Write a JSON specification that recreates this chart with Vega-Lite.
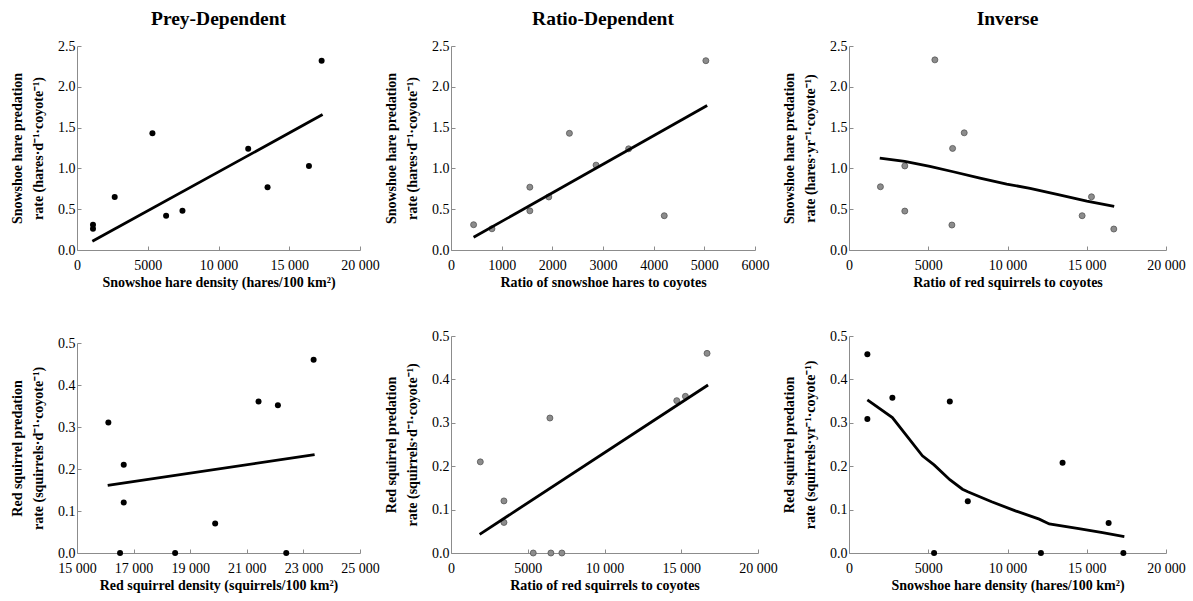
{
  "$schema": "https://vega.github.io/schema/vega-lite/v6.json",
  "padding": {"left": 10, "top": 8, "right": 0, "bottom": 5},
  "background": "white",
  "config": {
    "font": "Liberation Serif",
    "view": {"stroke": null},
    "axis": {
      "grid": false,
      "domainColor": "#8c8c8c",
      "domainWidth": 1,
      "tickColor": "#8c8c8c",
      "tickSize": -4,
      "labelFont": "Liberation Serif",
      "labelFontSize": 14,
      "labelColor": "black",
      "labelOverlap": false,
      "labelFlush": false,
      "titleFont": "Liberation Serif",
      "titleFontSize": 14,
      "titleFontWeight": "bold",
      "titleColor": "black",
      "titleLineHeight": 21
    },
    "axisX": {"labelPadding": 12.5, "titlePadding": 2.5},
    "axisY": {"labelPadding": 6, "titlePadding": 12},
    "title": {"font": "Liberation Serif", "fontSize": 19.5, "fontWeight": "bold", "color": "black", "anchor": "middle", "offset": 10}
  },
  "datasets": {
    "p1pts": [{"x":1130,"y":0.31},{"x":1130,"y":0.26},{"x":2665,"y":0.65},{"x":5330,"y":1.43},{"x":6297,"y":0.42},{"x":7453,"y":0.48},{"x":12099,"y":1.24},{"x":13467,"y":0.77},{"x":16392,"y":1.03},{"x":17288,"y":2.32}],
    "p1fit": [{"x":1085,"y":0.106},{"x":17358,"y":1.66}],
    "p2pts": [{"x":446,"y":0.31},{"x":808,"y":0.26},{"x":1556,"y":0.77},{"x":1556,"y":0.48},{"x":1930,"y":0.65},{"x":2337,"y":1.43},{"x":2863,"y":1.04},{"x":3506,"y":1.24},{"x":4209,"y":0.42},{"x":5030,"y":2.32}],
    "p2fit": [{"x":446,"y":0.156},{"x":5056,"y":1.77}],
    "p3pts": [{"x":1983,"y":0.775},{"x":3521,"y":1.03},{"x":3521,"y":0.477},{"x":5417,"y":2.33},{"x":6492,"y":0.306},{"x":6536,"y":1.245},{"x":7269,"y":1.436},{"x":14709,"y":0.42},{"x":15298,"y":0.652},{"x":16707,"y":0.257}],
    "p3fit": [{"x":1940,"y":1.126},{"x":3515,"y":1.085},{"x":5101,"y":1.024},{"x":6574,"y":0.959},{"x":8262,"y":0.881},{"x":9949,"y":0.808},{"x":11422,"y":0.755},{"x":13200,"y":0.68},{"x":15005,"y":0.6},{"x":16732,"y":0.535}],
    "p4pts": [{"x":16108,"y":0.311},{"x":16521,"y":0},{"x":16651,"y":0.21},{"x":16651,"y":0.12},{"x":18467,"y":0},{"x":19882,"y":0.07},{"x":21415,"y":0.361},{"x":22099,"y":0.352},{"x":22394,"y":0},{"x":23361,"y":0.46}],
    "p4fit": [{"x":16085,"y":0.161},{"x":23396,"y":0.234}],
    "p5pts": [{"x":1909,"y":0.21},{"x":3449,"y":0.12},{"x":3449,"y":0.0704},{"x":5358,"y":0},{"x":6443,"y":0.311},{"x":6508,"y":0},{"x":7223,"y":0},{"x":14707,"y":0.351},{"x":15271,"y":0.361},{"x":16681,"y":0.46}],
    "p5fit": [{"x":1866,"y":0.043},{"x":16746,"y":0.387}],
    "p6pts": [{"x":1158,"y":0.458},{"x":1158,"y":0.309},{"x":2737,"y":0.358},{"x":5368,"y":0},{"x":6360,"y":0.349},{"x":7495,"y":0.119},{"x":12108,"y":0},{"x":13474,"y":0.208},{"x":16380,"y":0.069},{"x":17310,"y":0}],
    "p6fit": [{"x":1158,"y":0.353},{"x":2737,"y":0.312},{"x":4632,"y":0.224},{"x":5368,"y":0.203},{"x":6360,"y":0.169},{"x":7159,"y":0.147},{"x":7495,"y":0.141},{"x":9000,"y":0.118},{"x":10500,"y":0.097},{"x":12003,"y":0.078},{"x":12634,"y":0.067},{"x":14500,"y":0.056},{"x":16000,"y":0.047},{"x":17372,"y":0.038}]
  },
  "bounds": "flush",
  "columns": 3,
  "spacing": {"column": 91, "row": 86},
  "concat": [
    {
      "width": 283, "height": 204,
      "title": "Prey-Dependent",
      "encoding": {
        "x": {"field": "x", "type": "quantitative", "scale": {"domain": [0, 20000], "nice": false}, "axis": {"values": [0, 5000, 10000, 15000, 20000], "labelExpr": "datum.value >= 10000 ? replace(format(datum.value, ','), ',', ' ') : format(datum.value, 'd')", "title": "Snowshoe hare density (hares/100 km²)"}},
        "y": {"field": "y", "type": "quantitative", "scale": {"domain": [0, 2.5], "nice": false}, "axis": {"values": [0, 0.5, 1, 1.5, 2, 2.5], "format": ".1f", "title": ["Snowshoe hare predation", "rate (hares·d⁻¹·coyote⁻¹)"]}}
      },
      "layer": [
        {"data": {"name": "p1pts"}, "mark": {"type": "point", "filled": true, "color": "black", "opacity": 1, "size": 36}},
        {"data": {"name": "p1fit"}, "mark": {"type": "line", "color": "black", "strokeWidth": 2.8}}
      ]
    },
    {
      "width": 304, "height": 204,
      "title": "Ratio-Dependent",
      "encoding": {
        "x": {"field": "x", "type": "quantitative", "scale": {"domain": [0, 6000], "nice": false}, "axis": {"values": [0, 1000, 2000, 3000, 4000, 5000, 6000], "format": "d", "title": "Ratio of snowshoe hares to coyotes"}},
        "y": {"field": "y", "type": "quantitative", "scale": {"domain": [0, 2.5], "nice": false}, "axis": {"values": [0, 0.5, 1, 1.5, 2, 2.5], "format": ".1f", "title": ["Snowshoe hare predation", "rate (hares·d⁻¹·coyote⁻¹)"]}}
      },
      "layer": [
        {"data": {"name": "p2pts"}, "mark": {"type": "point", "filled": true, "color": "#8c8c8c", "stroke": "#555555", "strokeWidth": 0.8, "opacity": 1, "size": 36}},
        {"data": {"name": "p2fit"}, "mark": {"type": "line", "color": "black", "strokeWidth": 2.8}}
      ]
    },
    {
      "width": 317, "height": 204,
      "title": "Inverse",
      "encoding": {
        "x": {"field": "x", "type": "quantitative", "scale": {"domain": [0, 20000], "nice": false}, "axis": {"values": [0, 5000, 10000, 15000, 20000], "labelExpr": "datum.value >= 10000 ? replace(format(datum.value, ','), ',', ' ') : format(datum.value, 'd')", "title": "Ratio of red squirrels to coyotes"}},
        "y": {"field": "y", "type": "quantitative", "scale": {"domain": [0, 2.5], "nice": false}, "axis": {"values": [0, 0.5, 1, 1.5, 2, 2.5], "format": ".1f", "title": ["Snowshoe hare predation", "rate (hares·yr⁻¹·coyote⁻¹)"]}}
      },
      "layer": [
        {"data": {"name": "p3pts"}, "mark": {"type": "point", "filled": true, "color": "#8c8c8c", "stroke": "#555555", "strokeWidth": 0.8, "opacity": 1, "size": 36}},
        {"data": {"name": "p3fit"}, "mark": {"type": "line", "color": "black", "strokeWidth": 2.8}}
      ]
    },
    {
      "width": 283, "height": 217,
      "encoding": {
        "x": {"field": "x", "type": "quantitative", "scale": {"domain": [15000, 25000], "nice": false, "zero": false}, "axis": {"values": [15000, 17000, 19000, 21000, 23000, 25000], "labelExpr": "datum.value >= 10000 ? replace(format(datum.value, ','), ',', ' ') : format(datum.value, 'd')", "title": "Red squirrel density (squirrels/100 km²)"}},
        "y": {"field": "y", "type": "quantitative", "scale": {"domain": [0, 0.5], "nice": false, "range": [217, 7]}, "axis": {"values": [0, 0.1, 0.2, 0.3, 0.4, 0.5], "format": ".1f", "title": ["Red squirrel predation", "rate (squirrels·d⁻¹·coyote⁻¹)"]}}
      },
      "layer": [
        {"data": {"name": "p4pts"}, "mark": {"type": "point", "filled": true, "color": "black", "opacity": 1, "size": 36}},
        {"data": {"name": "p4fit"}, "mark": {"type": "line", "color": "black", "strokeWidth": 2.8}}
      ]
    },
    {
      "width": 307, "height": 217,
      "encoding": {
        "x": {"field": "x", "type": "quantitative", "scale": {"domain": [0, 20000], "nice": false}, "axis": {"values": [0, 5000, 10000, 15000, 20000], "labelExpr": "datum.value >= 10000 ? replace(format(datum.value, ','), ',', ' ') : format(datum.value, 'd')", "title": "Ratio of red squirrels to coyotes"}},
        "y": {"field": "y", "type": "quantitative", "scale": {"domain": [0, 0.5], "nice": false}, "axis": {"values": [0, 0.1, 0.2, 0.3, 0.4, 0.5], "format": ".1f", "title": ["Red squirrel predation", "rate (squirrels·d⁻¹·coyote⁻¹)"]}}
      },
      "layer": [
        {"data": {"name": "p5pts"}, "mark": {"type": "point", "filled": true, "color": "#8c8c8c", "stroke": "#555555", "strokeWidth": 0.8, "opacity": 1, "size": 36}},
        {"data": {"name": "p5fit"}, "mark": {"type": "line", "color": "black", "strokeWidth": 2.8}}
      ]
    },
    {
      "width": 317, "height": 217,
      "encoding": {
        "x": {"field": "x", "type": "quantitative", "scale": {"domain": [0, 20000], "nice": false}, "axis": {"values": [0, 5000, 10000, 15000, 20000], "labelExpr": "datum.value >= 10000 ? replace(format(datum.value, ','), ',', ' ') : format(datum.value, 'd')", "title": "Snowshoe hare density (hares/100 km²)"}},
        "y": {"field": "y", "type": "quantitative", "scale": {"domain": [0, 0.5], "nice": false}, "axis": {"values": [0, 0.1, 0.2, 0.3, 0.4, 0.5], "format": ".1f", "title": ["Red squirrel predation", "rate (squirrels·yr⁻¹·coyote⁻¹)"]}}
      },
      "layer": [
        {"data": {"name": "p6pts"}, "mark": {"type": "point", "filled": true, "color": "black", "opacity": 1, "size": 36}},
        {"data": {"name": "p6fit"}, "mark": {"type": "line", "color": "black", "strokeWidth": 2.8}}
      ]
    }
  ]
}
